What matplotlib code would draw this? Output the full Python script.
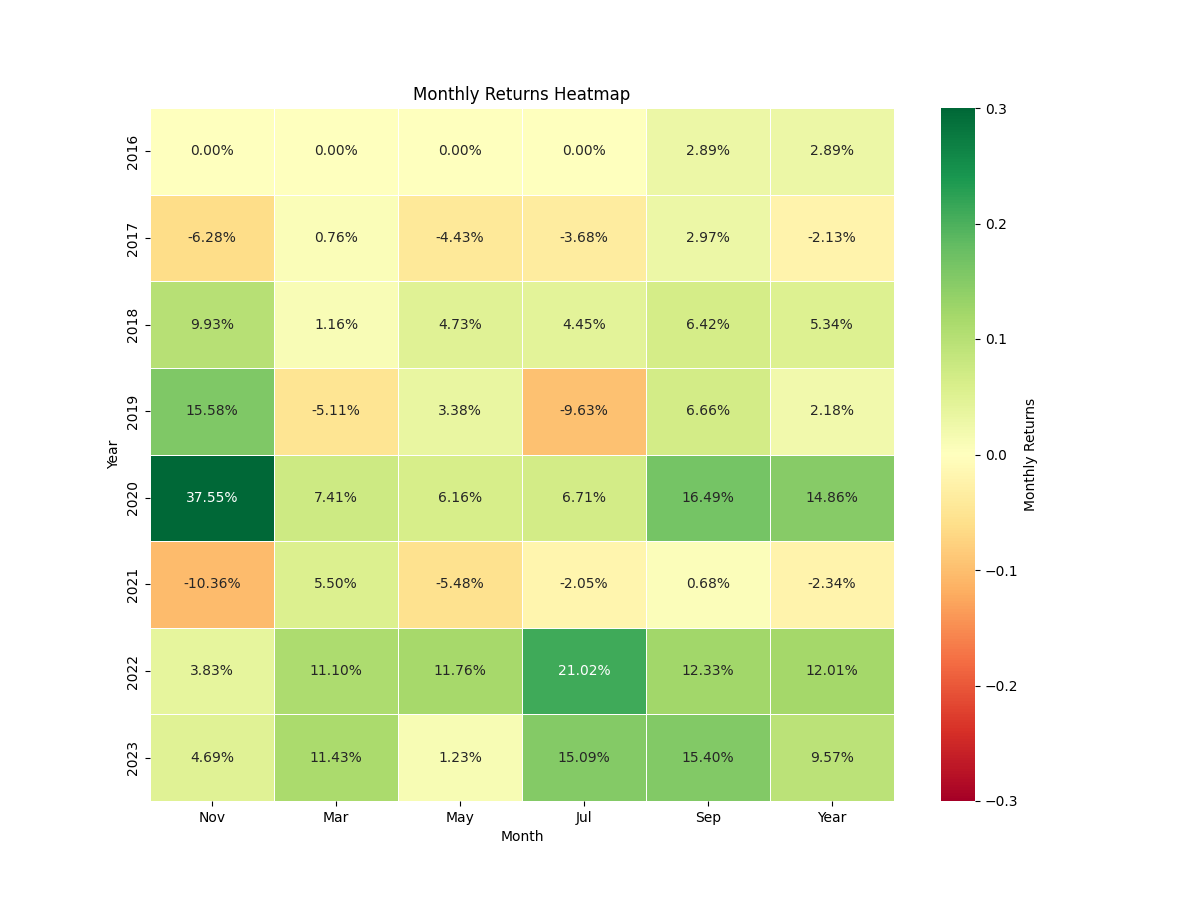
import numpy as np
import pandas as pd
import matplotlib
matplotlib.use('Agg')
import matplotlib.pyplot as plt
import seaborn as sns

years = [2016, 2017, 2018, 2019, 2020, 2021, 2022, 2023]
columns = ['Nov', 'Mar', 'May', 'Jul', 'Sep', 'Year']
nov = [0.0, -0.0628, 0.0993, 0.1558, 0.3755, -0.1036, 0.0383, 0.0469]
mar = [0.0, 0.0076, 0.0116, -0.0511, 0.0741, 0.0550, 0.1110, 0.1143]
may = [0.0, -0.0443, 0.0473, 0.0338, 0.0616, -0.0548, 0.1176, 0.0123]
jul = [0.0, -0.0368, 0.0445, -0.0963, 0.0671, -0.0205, 0.2102, 0.1509]
sep = [0.0289, 0.0297, 0.0642, 0.0666, 0.1649, 0.0068, 0.1233, 0.1540]
year_total = [0.0289, -0.0213, 0.0534, 0.0218, 0.1486, -0.0234, 0.1201, 0.0957]

returns = pd.DataFrame({'Nov': nov, 'Mar': mar, 'May': may, 'Jul': jul,
                        'Sep': sep, 'Year': year_total}, index=years)[columns]
returns.index.name = 'Year'
returns.columns.name = 'Month'

plt.figure(figsize=(12, 9))
ax = sns.heatmap(returns, annot=True, fmt='.2%', cmap='RdYlGn',
                 vmin=-0.3, vmax=0.3, linewidths=0.5, linecolor='white',
                 cbar_kws={'label': 'Monthly Returns'})
plt.setp(ax.get_yticklabels(), rotation=90)
plt.title('Monthly Returns Heatmap')
plt.xlabel('Month')
plt.ylabel('Year')
plt.savefig('out.png', dpi=100)
